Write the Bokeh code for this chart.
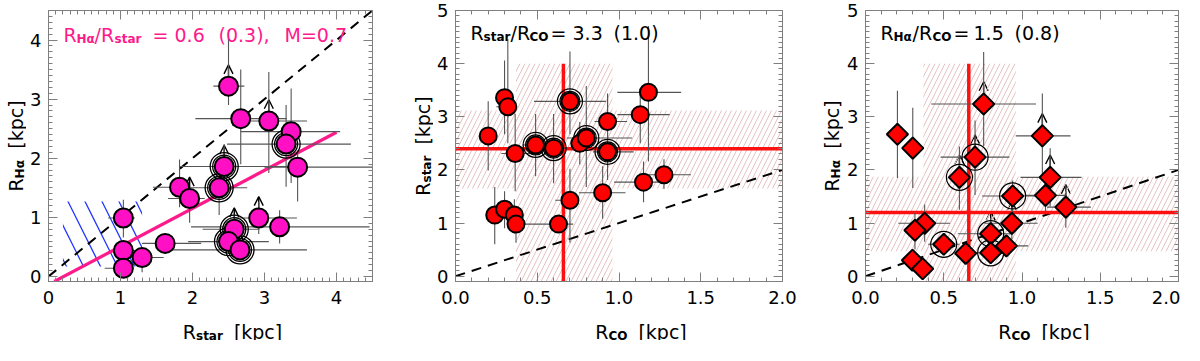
import math
from bokeh.plotting import figure
from bokeh.layouts import row, column
from bokeh.models import (Label, Arrow, OpenHead, ColumnDataSource, LinearAxis,
                          SingleIntervalTicker, PrintfTickFormatter, Range1d)
from bokeh.embed import file_html
from bokeh.resources import INLINE

# ---------------- data ----------------
# Panel 1: R_star (x) vs R_Halpha (y)
p1_x   = [2.50, 2.67, 3.06, 3.37, 3.30, 3.46, 2.44, 2.37, 1.82, 1.96, 1.04, 1.04, 1.04, 1.30, 1.62, 2.92, 3.21, 2.58, 2.50, 2.66]
p1_y   = [3.22, 2.67, 2.63, 2.45, 2.24, 1.85, 1.86, 1.50, 1.51, 1.32, 0.99, 0.44, 0.14, 0.32, 0.56, 0.99, 0.84, 0.80, 0.59, 0.45]
p1_xlo = [2.29, 2.04, 2.81, 2.67, 2.48, 3.00, 1.83, 1.96, 1.45, 1.66, 0.83, 0.95, 0.78, 1.14, 1.30, 2.58, 1.98, 2.14, 1.94, 1.57]
p1_xhi = [2.72, 3.31, 3.59, 4.05, 4.20, 4.50, 3.50, 2.76, 1.98, 2.17, 1.20, 1.20, 1.18, 1.60, 2.12, 3.45, 4.46, 2.93, 3.06, 3.59]
p1_ylo = [2.90, 1.90, 1.75, 1.58, 1.52, 1.27, 1.52, 1.04, 1.17, 0.91, 0.66, 0.30, 0.02, 0.07, 0.42, 0.72, 0.56, 0.55, 0.40, 0.30]
p1_yhi = [4.17, 3.50, 3.46, 3.18, 2.90, 2.13, 2.24, 1.75, 1.98, 1.52, 1.30, 0.60, 0.25, 0.45, 0.70, 1.26, 1.12, 1.05, 0.75, 0.60]
p1_lim = [1, 0, 1, 0, 0, 0, 1, 0, 0, 1, 0, 0, 0, 0, 0, 1, 0, 1, 0, 0]
p1_ring = [0, 0, 0, 0, 1, 0, 1, 1, 0, 0, 0, 0, 0, 0, 0, 0, 0, 1, 1, 1]
p1_diag_x = [0.0, 4.5]
p1_diag_y = [0.0, 4.5]
p1_fit_x = [0.08, 4.0]
p1_fit_y = [-0.085, 2.44]
p1_box = [0.2, 1.3, 0.17, 1.27]   # left, right, bottom, top

# Panel 2: R_CO (x) vs R_star (y)
p2_x   = [0.30, 0.32, 0.20, 0.365, 0.49, 0.60, 0.70, 0.76, 0.80, 0.93, 0.93, 1.13, 1.18, 1.15, 1.275, 0.90, 0.70, 0.63, 0.24, 0.30, 0.36, 0.37]
p2_y   = [3.36, 3.19, 2.64, 2.31, 2.47, 2.41, 3.29, 2.50, 2.60, 2.91, 2.34, 3.04, 3.46, 1.77, 1.91, 1.57, 1.43, 0.98, 1.15, 1.26, 1.15, 0.98]
p2_xlo = [0.26, 0.25, 0.18, 0.28, 0.41, 0.53, 0.48, 0.72, 0.68, 0.85, 0.84, 0.99, 0.99, 0.97, 1.16, 0.755, 0.61, 0.365, 0.20, 0.26, 0.32, 0.33]
p2_xhi = [0.34, 0.37, 0.22, 0.47, 0.59, 0.68, 0.92, 0.80, 1.08, 1.05, 1.09, 1.31, 1.38, 1.28, 1.44, 1.04, 0.75, 0.72, 0.28, 0.34, 0.40, 0.41]
p2_ylo = [2.67, 2.50, 1.99, 1.60, 1.88, 1.75, 2.67, 2.10, 1.68, 2.50, 1.81, 2.50, 2.16, 1.39, 1.64, 1.08, 0.63, 0.85, 0.60, 0.90, 0.80, 0.63]
p2_yhi = [4.06, 4.46, 3.29, 3.05, 3.05, 3.05, 4.23, 2.90, 3.58, 3.44, 3.43, 3.49, 4.71, 2.16, 2.20, 2.07, 2.02, 1.10, 1.68, 1.60, 1.45, 1.28]
p2_ring = [0, 0, 0, 0, 1, 1, 1, 0, 1, 0, 1, 0, 0, 0, 0, 0, 0, 0, 0, 0, 0, 0]

# Panel 3: R_CO (x) vs R_Halpha (y)
p3_x   = [0.204, 0.302, 0.755, 1.13, 0.70, 0.60, 1.18, 0.94, 1.15, 1.28, 0.935, 0.378, 0.316, 0.50, 0.64, 0.80, 0.80, 0.90, 0.30, 0.365]
p3_y   = [2.67, 2.41, 3.24, 2.64, 2.24, 1.86, 1.86, 1.51, 1.52, 1.30, 0.995, 0.995, 0.864, 0.60, 0.43, 0.80, 0.44, 0.57, 0.30, 0.14]
p3_xlo = [0.19, 0.29, 0.42, 0.96, 0.48, 0.55, 0.99, 0.745, 1.02, 1.16, 0.76, 0.21, 0.30, 0.40, 0.60, 0.59, 0.70, 0.82, 0.28, 0.34]
p3_xhi = [0.22, 0.32, 1.09, 1.31, 0.92, 0.65, 1.38, 1.16, 1.28, 1.44, 1.10, 0.54, 0.34, 0.60, 0.68, 0.94, 0.90, 1.04, 0.32, 0.39]
p3_ylo = [1.85, 1.66, 2.45, 1.87, 1.53, 1.25, 1.31, 1.20, 1.20, 0.91, 0.70, 0.65, 0.50, 0.45, 0.35, 0.50, 0.30, 0.45, 0.20, 0.05]
p3_yhi = [3.49, 3.17, 4.22, 3.44, 2.93, 2.44, 2.41, 1.80, 1.85, 1.73, 1.30, 1.35, 1.20, 0.75, 0.50, 1.10, 0.60, 0.70, 0.40, 0.25]
p3_lim = [0, 0, 1, 1, 1, 1, 1, 0, 0, 1, 1, 0, 0, 0, 0, 1, 1, 0, 0, 0]
p3_ring = [0, 0, 0, 0, 1, 1, 0, 1, 0, 0, 0, 0, 0, 1, 0, 1, 1, 0, 0, 0]

# median values and scatter bands
co_med, co_lo, co_hi, co_top = 0.66, 0.37, 0.96, 4.0
star_med, star_lo, star_hi = 2.4, 1.65, 3.12
ha_med, ha_lo, ha_hi = 1.2, 0.47, 1.87
diag_x = [0.0, 2.0]
diag_y = [0.0, 2.0]

# ---------------- style ----------------
FONT = "DejaVu Sans"
MAIN = 19
SUB = 12
PINK_FILL = "#ff10c4"
PINK_LINE = "#ff1a8c"
RED = "#ff1010"
FRAME = "#7f7f7f"
ERR = "#555555"
HATCH = "#e6c2c2"

WR = {' ': 0.318, '(': 0.390, ')': 0.390, ',': 0.318, '.': 0.318, '/': 0.337, '=': 0.838,
      '[': 0.390, ']': 0.390, 'C': 0.698, 'H': 0.752, 'M': 0.863, 'O': 0.787, 'R': 0.695,
      'a': 0.613, 'c': 0.550, 'k': 0.579, 'p': 0.635, 'r': 0.411, 's': 0.521, 't': 0.392,
      'α': 0.659}
WB = {'s': 0.595, 't': 0.478, 'a': 0.675, 'r': 0.493, 'H': 0.837, 'α': 0.72, 'C': 0.734, 'O': 0.850}


def tw(text, size, bold):
    w = 0.0
    for ch in text:
        if ch.isdigit():
            w += 0.696 if bold else 0.636
        elif bold and ch in WB:
            w += WB[ch]
        else:
            w += WR.get(ch, 0.6)
    return w * size


def total_width(pieces):
    return sum(g + tw(t, s, b) for (t, s, b, d, g) in pieces)


def put(p, text, x, y, size, bold, color, angle=0.0):
    p.add_layout(Label(x=x, y=y, x_units="screen", y_units="screen", text=text,
                       angle=angle, text_font=FONT, text_font_size=f"{size}px",
                       text_font_style="bold" if bold else "normal",
                       text_color=color, text_align="left", text_baseline="alphabetic"))


def rich(p, pieces, x, y, color, angle=0.0):
    pos = 0.0
    for (text, size, bold, dy, gap) in pieces:
        pos += gap
        if angle == 0.0:
            put(p, text, x + pos, y - dy, size, bold, color)
        else:
            put(p, text, x + dy, y + pos, size, bold, color, angle)
        pos += tw(text, size, bold)


def rich_abs(p, pieces, y, color):
    # pieces: (text, size, bold, dy, x position from frame left)
    for (text, size, bold, dy, x) in pieces:
        put(p, text, x, y - dy, size, bold, color)


def lab(sub):
    return [("R", MAIN, False, 0, 0), (sub, SUB, True, 4, 0), ("[kpc]", MAIN, False, 0, 11)]


TOP = 10          # space above frame (room for the top tick label)
H = 271           # frame height
FIG_H = TOP + H + 32   # panel figure height
XL_H = 27         # x-label strip height
TOT_H = FIG_H + XL_H   # 340: keeps the page free of scrollbars


def make_fig(width, bl, br, xr, yr, xint, xminor, yint, yminor, xfmt):
    p = figure(width=width, height=FIG_H, x_range=Range1d(*xr), y_range=Range1d(*yr),
               output_backend="svg", toolbar_location=None, tools="", title=None,
               min_border_left=bl, min_border_right=br, min_border_top=TOP,
               min_border_bottom=FIG_H - H - TOP, x_axis_location=None, y_axis_location=None)
    p.xgrid.visible = False
    p.ygrid.visible = False
    p.outline_line_color = FRAME
    p.outline_line_width = 1
    p.background_fill_color = "white"
    p.border_fill_color = "white"
    for side, dim in (("below", "x"), ("above", "x"), ("left", "y"), ("right", "y")):
        if dim == "x":
            ax = LinearAxis(ticker=SingleIntervalTicker(interval=xint, num_minor_ticks=xminor))
            if xfmt:
                ax.formatter = PrintfTickFormatter(format=xfmt)
        else:
            ax = LinearAxis(ticker=SingleIntervalTicker(interval=yint, num_minor_ticks=yminor))
        ax.axis_line_color = FRAME
        ax.major_tick_line_color = FRAME
        ax.minor_tick_line_color = FRAME
        ax.major_tick_in = 9
        ax.major_tick_out = 0
        ax.minor_tick_in = 4
        ax.minor_tick_out = 0
        if side in ("below", "left"):
            ax.major_label_text_font = FONT
            ax.major_label_text_font_size = "18px"
            ax.major_label_text_color = "black"
            ax.major_label_standoff = 7 if side == "left" else 9
        else:
            ax.major_label_text_color = None
            ax.major_label_text_font_size = "1px"
            ax.major_label_standoff = 0
        p.add_layout(ax, side)
    return p


def text_fig(width, height):
    f = figure(width=width, height=height, x_range=Range1d(0, 1), y_range=Range1d(0, 1),
               output_backend="svg", toolbar_location=None, tools="", title=None,
               min_border=0, min_border_left=0, min_border_right=0, min_border_top=0,
               min_border_bottom=0, x_axis_location=None, y_axis_location=None)
    f.xgrid.visible = False
    f.ygrid.visible = False
    f.outline_line_color = None
    f.background_fill_color = "white"
    f.border_fill_color = "white"
    return f


def errbars(p, x, y, xlo, xhi, ylo, yhi):
    p.segment(x0=xlo, y0=y, x1=xhi, y1=y, line_color=ERR, line_width=1.1)
    p.segment(x0=x, y0=ylo, x1=x, y1=yhi, line_color=ERR, line_width=1.1)


def arrows(p, x, y, lim, length):
    ax = [a for a, l in zip(x, lim) if l]
    ay = [b for b, l in zip(y, lim) if l]
    src = ColumnDataSource(dict(x=ax, y0=ay, y1=[v + length for v in ay]))
    p.add_layout(Arrow(end=OpenHead(size=9, line_color="black", line_width=1.4),
                       source=src, x_start="x", y_start="y0", x_end="x", y_end="y1",
                       line_color="black", line_width=1.4, level="underlay"))


def sel(vals, mask):
    return [v for v, m in zip(vals, mask) if m]


def xlabel_fig(width, bl, fw, sub):
    f = text_fig(width, XL_H)
    w = total_width(lab(sub))
    rich(f, lab(sub), bl + fw / 2 - w / 2, 9, "black")
    return f


def ylabel_fig(width, xb, sub):
    f = text_fig(width, TOT_H)
    w = total_width(lab(sub))
    yc = TOT_H - (TOP + H / 2)
    rich(f, lab(sub), xb, yc - w / 2, "black", angle=math.pi / 2)
    return f


# ---------------- panel 1 ----------------
W1, BL1, BR1 = 374, 22, 28
p1 = make_fig(W1, BL1, BR1, (0, 4.5), (-0.085, 4.5), 1, 10, 1, 10, None)
p1.quad(left=[p1_box[0]], right=[p1_box[1]], bottom=[p1_box[2]], top=[p1_box[3]],
        fill_color=None, line_color=None, hatch_pattern="\\", hatch_color="#1f35ff",
        hatch_scale=34, hatch_weight=1.3)
p1.line(p1_diag_x, p1_diag_y, line_color="black", line_width=2, line_dash="10 7")
p1.line(p1_fit_x, p1_fit_y, line_color=PINK_LINE, line_width=3.2)
errbars(p1, p1_x, p1_y, p1_xlo, p1_xhi, p1_ylo, p1_yhi)
arrows(p1, p1_x, p1_y, p1_lim, 0.36)
p1.scatter(sel(p1_x, p1_ring), sel(p1_y, p1_ring), marker="circle", size=28,
           fill_color=None, line_color="black", line_width=1.3)
p1.scatter(sel(p1_x, p1_ring), sel(p1_y, p1_ring), marker="circle", size=23,
           fill_color=None, line_color="black", line_width=1.3)
p1.scatter(p1_x, p1_y, marker="circle", size=19, fill_color=PINK_FILL,
           line_color="black", line_width=2)
rich_abs(p1, [("R", MAIN, False, 0, 15), ("Hα", SUB, True, 4, 28), ("/R", MAIN, False, 0, 46),
              ("star", SUB, True, 4, 66), ("=", MAIN, False, 0, 104), ("0.6", MAIN, False, 0, 126),
              ("(0.3),", MAIN, False, 0, 170), ("M=0.7", MAIN, False, 0, 236)],
         H - 24, PINK_LINE)
xl1 = xlabel_fig(W1, BL1, W1 - BL1 - BR1, "star")
yl1 = ylabel_fig(26, 15, "Hα")

# ---------------- panel 2 ----------------
W2, BL2, BR2 = 377, 22, 28
p2 = make_fig(W2, BL2, BR2, (0, 2.0), (-0.1, 5.0), 0.5, 5, 1, 10, "%.1f")
p2.quad(left=[co_lo], right=[co_hi], bottom=[-0.1], top=[co_top], fill_color=None,
        line_color=None, hatch_pattern="/", hatch_color=HATCH, hatch_scale=10, hatch_weight=1)
p2.quad(left=[0], right=[2.0], bottom=[star_lo], top=[star_hi], fill_color=None,
        line_color=None, hatch_pattern="/", hatch_color=HATCH, hatch_scale=10, hatch_weight=1)
p2.line(diag_x, diag_y, line_color="black", line_width=2, line_dash="10 7")
p2.line([co_med, co_med], [-0.1, co_top], line_color=RED, line_width=3.5)
p2.line([0, 2.0], [star_med, star_med], line_color=RED, line_width=3.5)
errbars(p2, p2_x, p2_y, p2_xlo, p2_xhi, p2_ylo, p2_yhi)
p2.scatter(sel(p2_x, p2_ring), sel(p2_y, p2_ring), marker="circle", size=25,
           fill_color=None, line_color="black", line_width=1.2)
p2.scatter(sel(p2_x, p2_ring), sel(p2_y, p2_ring), marker="circle", size=20,
           fill_color=None, line_color="black", line_width=1.2)
p2.scatter(p2_x, p2_y, marker="circle", size=17, fill_color="#ff0000",
           line_color="black", line_width=2)
rich_abs(p2, [("R", MAIN, False, 0, 15), ("star", SUB, True, 4, 28), ("/R", MAIN, False, 0, 55),
              ("CO", SUB, True, 4, 74), ("=", MAIN, False, 0, 95), ("3.3", MAIN, False, 0, 117),
              ("(1.0)", MAIN, False, 0, 158)],
         H - 22, "black")
xl2 = xlabel_fig(W2, BL2, W2 - BL2 - BR2, "CO")
yl2 = ylabel_fig(33, 22, "star")

# ---------------- panel 3 ----------------
W3, BL3, BR3 = 337, 22, 2
p3 = make_fig(W3, BL3, BR3, (0, 2.0), (-0.1, 5.0), 0.5, 5, 1, 10, "%.1f")
p3.quad(left=[co_lo], right=[co_hi], bottom=[-0.1], top=[co_top], fill_color=None,
        line_color=None, hatch_pattern="/", hatch_color=HATCH, hatch_scale=10, hatch_weight=1)
p3.quad(left=[0], right=[2.0], bottom=[ha_lo], top=[ha_hi], fill_color=None,
        line_color=None, hatch_pattern="/", hatch_color=HATCH, hatch_scale=10, hatch_weight=1)
p3.line(diag_x, diag_y, line_color="black", line_width=2, line_dash="10 7")
p3.line([co_med, co_med], [-0.1, co_top], line_color=RED, line_width=3.5)
p3.line([0, 2.0], [ha_med, ha_med], line_color=RED, line_width=3.5)
errbars(p3, p3_x, p3_y, p3_xlo, p3_xhi, p3_ylo, p3_yhi)
arrows(p3, p3_x, p3_y, p3_lim, 0.42)
p3.scatter(sel(p3_x, p3_ring), sel(p3_y, p3_ring), marker="circle", size=26,
           fill_color=None, line_color="black", line_width=1.2)
p3.scatter(p3_x, p3_y, marker="square", angle=math.pi / 4, size=15, fill_color="#ff0000",
           line_color="black", line_width=2)
rich_abs(p3, [("R", MAIN, False, 0, 15), ("Hα", SUB, True, 4, 28), ("/R", MAIN, False, 0, 47),
              ("CO", SUB, True, 4, 67), ("=", MAIN, False, 0, 88), ("1.5", MAIN, False, 0, 108),
              ("(0.8)", MAIN, False, 0, 149)],
         H - 22, "black")
xl3 = xlabel_fig(W3, BL3, W3 - BL3 - BR3, "CO")
yl3 = ylabel_fig(33, 21, "Hα")

layout = row(yl1, column(p1, xl1), yl2, column(p2, xl2), yl3, column(p3, xl3))
open("out.html", "w").write(file_html(layout, INLINE))
